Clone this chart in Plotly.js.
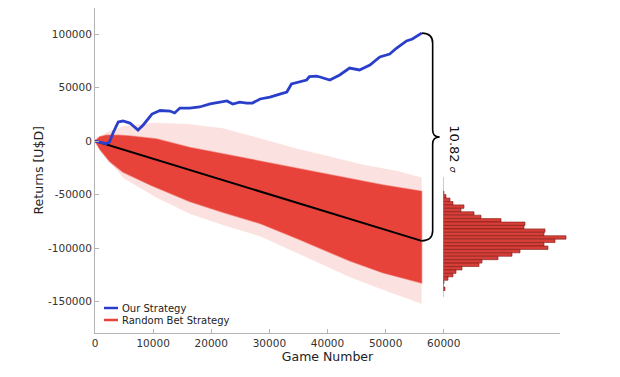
<!DOCTYPE html>
<html>
<head>
<meta charset="utf-8">
<script src="https://cdn.plot.ly/plotly-3.0.1.min.js"></script>
<style>
  html, body { margin: 0; padding: 0; background: #ffffff; }
  #chart { width: 620px; height: 377px; }
</style>
</head>
<body>
<div id="chart"></div>
<script>
// ---------------- data ----------------
const seriesNames = ['Our Strategy', 'Random Bet Strategy'];

// Our Strategy (blue) cumulative returns
const blueGames = [0, 800, 1900, 2500, 3100, 4000, 4800, 6000, 7400, 8300, 9800, 11200, 12900, 13700,
  14600, 16300, 18000, 19800, 21500, 22700, 23700, 24900, 26100, 27100, 28400, 30100, 31800, 33000,
  33800, 35200, 36400, 36900, 38100, 38700, 40400, 42100, 43800, 45500, 47300, 49000, 50700, 51900,
  53600, 54600, 55200, 55800, 56200];
const blueReturns = [0, -1000, -2500, -1000, 7500, 17800, 18700, 16800, 10300, 15000, 25200, 28500, 28000, 26200,
  30800, 30800, 31800, 34600, 36400, 37400, 34600, 36400, 35500, 35500, 39300, 41100, 43900, 45800,
  53300, 55100, 57000, 60200, 60700, 59800, 57000, 61700, 68200, 66400, 71000, 78500, 81300, 86900,
  93500, 95300, 97500, 99500, 100800];

// Random Bet Strategy: envelope of the simulated paths (dense core and faint outer spread)
const coreUpperGames = [0, 800, 2000, 4000, 6000, 10600, 16300, 22000, 28400, 35200, 43800, 49500, 56200];
const coreUpperReturns = [0, 4000, 5500, 5500, 4700, 2000, -6000, -12000, -18500, -26000, -34500, -41000, -47000];
const coreLowerGames = [0, 800, 2500, 4800, 9500, 16300, 22000, 28400, 35200, 43800, 49500, 56200];
const coreLowerReturns = [0, -7500, -19000, -29000, -41000, -56500, -66500, -77000, -92000, -112000, -123000, -132700];
const faintUpperGames = [0, 2000, 5000, 10000, 16000, 22000, 28000, 34000, 40000, 46000, 52000, 56200];
const faintUpperReturns = [0, 8000, 14000, 17000, 16000, 12000, 3000, -6000, -14000, -22000, -28000, -34000];
const faintLowerGames = [0, 1000, 5000, 10600, 16300, 22000, 28400, 35200, 43800, 49500, 56200];
const faintLowerReturns = [0, -10000, -35000, -53000, -68000, -78500, -89000, -106000, -127000, -139000, -152000];

// Mean of random strategy (black)
const meanGames = [0, 56200];
const meanReturns = [0, -93300];

// Histogram of final returns of random strategy
const histBinCenters = [-48500, -51700, -54900, -58100, -61300, -64500, -67700, -70900, -74100, -77300,
  -80500, -83700, -86900, -90100, -93300, -96500, -99700, -102900, -106100, -109300,
  -112500, -115700, -118900, -122100, -125300, -128500, -131700, -134900, -138100];
const histCounts = [1, 3, 7, 10, 21, 18, 31, 38, 58, 82, 81, 102, 101, 123, 112, 101, 105, 77, 69, 55,
  39, 36, 19, 13, 10, 5, 1, 0, 2];
const histBinWidth = 3200;

// Axis ticks
const xTickVals = [0, 10000, 20000, 30000, 40000, 50000, 60000];
const xTickText = ['0', '10000', '20000', '30000', '40000', '50000', '60000'];
const yTickVals = [-150000, -100000, -50000, 0, 50000, 100000];
const yTickText = ['-150000', '-100000', '-50000', '0', '50000', '100000'];
const sigmaLabel = '10.82';

// ---------------- layout constants ----------------
const W = 620, H = 377;
const M = {l: 95, r: 50, t: 8, b: 44};
const plotW = W - M.l - M.r, plotH = H - M.t - M.b;
const yRange = [-179400, 124300];
const xRange = [0, 80000];
const xDomainEnd = 465 / plotW;
const histStart = (443 - M.l) / plotW;
const dataPerPxY = (yRange[1] - yRange[0]) / plotH;

const blue = 'rgb(42,62,204)';
const red = 'rgb(232,67,58)';
const font = 'DejaVu Sans, sans-serif';

function poly(ux, uy, lx, ly) {
  return {x: ux.concat(lx.slice().reverse()), y: uy.concat(ly.slice().reverse())};
}
const faintPoly = poly(faintUpperGames, faintUpperReturns, faintLowerGames, faintLowerReturns);
const corePoly = poly(coreUpperGames, coreUpperReturns, coreLowerGames, coreLowerReturns);

const traces = [
  {x: faintPoly.x, y: faintPoly.y, type: 'scatter', mode: 'lines', fill: 'toself',
   fillcolor: 'rgba(232,67,58,0.16)', line: {width: 0}, hoverinfo: 'skip', showlegend: false},
  {x: corePoly.x, y: corePoly.y, type: 'scatter', mode: 'lines', fill: 'toself',
   fillcolor: red, line: {width: 1.5, color: 'rgba(232,67,58,0.45)'}, name: seriesNames[1], showlegend: false},
  {x: meanGames, y: meanReturns, type: 'scatter', mode: 'lines',
   line: {color: '#000', width: 2}, showlegend: false},
  {x: blueGames, y: blueReturns, type: 'scatter', mode: 'lines', name: seriesNames[0],
   line: {color: blue, width: 2.8}, showlegend: false},
  {x: histCounts, y: histBinCenters, type: 'bar', orientation: 'h', width: histBinWidth,
   xaxis: 'x2', yaxis: 'y', marker: {color: 'rgb(216,62,56)', line: {color: 'rgb(120,25,20)', width: 0.6}},
   cliponaxis: false, showlegend: false}
];

const yTop = blueReturns[blueReturns.length - 1];
const yBot = meanReturns[meanReturns.length - 1];
const yMid = (yTop + yBot) / 2;
const braceX = blueGames[blueGames.length - 1];
const d = dataPerPxY;
const bracePath = `M 0 ${yTop} Q 11 ${yTop} 11 ${yTop - 10 * d} L 11 ${yMid + 7 * d} Q 11 ${yMid} 18 ${yMid} ` +
  `Q 11 ${yMid} 11 ${yMid - 7 * d} L 11 ${yBot + 10 * d} Q 11 ${yBot} 0 ${yBot}`;

function px2paperX(px) { return (px - M.l) / plotW; }
function px2paperY(py) { return (H - M.b - py) / plotH; }

const legendColors = [blue, red];
const legendRowsPx = [308, 320];
const shapes = [
  {type: 'path', xref: 'x', yref: 'y', xsizemode: 'pixel', xanchor: braceX, path: bracePath,
   line: {color: '#000', width: 1.6}},
  {type: 'line', xref: 'x2', yref: 'y', x0: 0, x1: 0, y0: -33600, y1: -145800,
   line: {color: '#9a9a9a', width: 1}}
];
const annotations = [
  {x: braceX, xref: 'x', y: yMid, yref: 'y', xshift: 33, yshift: -12, showarrow: false, textangle: 90,
   text: sigmaLabel + ' <span style="font-size:9px"><i>σ</i></span>', font: {family: font, size: 13, color: '#111'}},
  {xref: 'paper', yref: 'paper', x: px2paperX(38), y: 0.5, xanchor: 'center', yanchor: 'middle',
   showarrow: false, textangle: -90, text: 'Returns [U$D]', font: {family: font, size: 12.5, color: '#222'}}
];
seriesNames.forEach((nm, i) => {
  shapes.push({type: 'line', xref: 'paper', yref: 'paper',
    x0: px2paperX(104), x1: px2paperX(118), y0: px2paperY(legendRowsPx[i]), y1: px2paperY(legendRowsPx[i]),
    line: {color: legendColors[i], width: 2.5}});
  annotations.push({xref: 'paper', yref: 'paper', x: px2paperX(119.5), y: px2paperY(legendRowsPx[i]),
    xanchor: 'left', yanchor: 'middle', showarrow: false, text: nm,
    font: {family: font, size: 10, color: '#222'}});
});

const axisCommon = {
  showgrid: false, zeroline: false, showline: true, linecolor: '#b4b4b4', linewidth: 1,
  ticks: 'inside', ticklen: 4, tickcolor: '#b4b4b4',
  tickfont: {family: font, size: 10.5, color: '#333'}, mirror: false
};

const layout = {
  width: W, height: H, margin: M,
  paper_bgcolor: '#fff', plot_bgcolor: 'rgba(0,0,0,0)',
  showlegend: false,
  xaxis: Object.assign({}, axisCommon, {
    domain: [0, xDomainEnd], range: xRange, tickmode: 'array', tickvals: xTickVals, ticktext: xTickText,
    anchor: 'y',
    title: {text: 'Game Number', font: {family: font, size: 12.5, color: '#222'}, standoff: 4}
  }),
  yaxis: Object.assign({}, axisCommon, {
    range: yRange, tickmode: 'array', tickvals: yTickVals, ticktext: yTickText, anchor: 'x'
  }),
  xaxis2: {domain: [histStart, 1], range: [0, 127], anchor: 'y', visible: false, fixedrange: true},
  bargap: 0,
  shapes: shapes,
  annotations: annotations
};

Plotly.newPlot('chart', traces, layout, {staticPlot: true, displayModeBar: false});
</script>
</body>
</html>
